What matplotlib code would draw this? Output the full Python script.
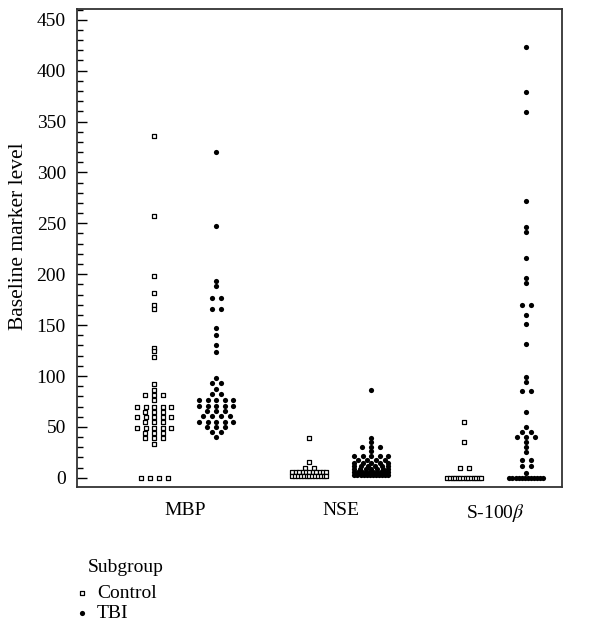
import numpy as np
import matplotlib.pyplot as plt
from matplotlib.ticker import MultipleLocator

plt.rcParams['font.family'] = ['Liberation Serif', 'DejaVu Serif']
plt.rcParams['mathtext.fontset'] = 'stix'
plt.rcParams['font.size'] = 14

# CATEGORIES AND SUBGROUPS
MARKERS = ['MBP', 'NSE', 'S-100$\\beta$']
SUBGROUPS = ['Control', 'TBI']

# BASELINE LEVELS
MBP_CONTROL = [336, 257, 198, 182, 170, 166, 128, 125, 119,
               92, 86, 81, 81, 81, 76,
               70, 70, 70, 70, 70, 65, 65, 65,
               60, 60, 60, 60, 60, 55, 55, 55,
               49, 49, 49, 49, 49, 44, 44, 44,
               39, 39, 39, 33, 0, 0, 0, 0]
MBP_TBI = [320, 247, 193, 188, 177, 177, 166, 166, 147, 140, 130, 124,
           98, 93, 93, 87, 82, 82,
           76, 76, 76, 76, 76, 71, 71, 71, 71, 71,
           66, 66, 66, 61, 61, 61, 61,
           55, 55, 55, 55, 55, 50, 50, 50, 45, 45, 40]
NSE_CONTROL = [39, 16, 10, 10,
               6, 6, 6, 6, 6, 6, 6, 6, 6, 6, 6,
               2, 2, 2, 2, 2, 2, 2, 2, 2, 2, 2, 2, 2]
NSE_TBI = [86, 39, 35, 30, 30, 30, 26,
           21, 21, 21, 21, 21, 18, 18, 18, 18,
           15, 15, 15, 15, 15, 12, 12, 12, 12, 12, 12,
           9, 9, 9, 9, 9, 9, 9,
           6, 6, 6, 6, 6, 6, 6, 6, 6, 6,
           3, 3, 3, 3, 3, 3, 3, 3, 3, 3, 3, 3]
S100_CONTROL = [55, 35, 10, 10,
                0, 0, 0, 0, 0, 0, 0, 0, 0, 0, 0, 0, 0, 0]
S100_TBI = [423, 379, 359, 272, 246, 241, 216, 196, 191, 170, 170, 160, 151, 131,
            99, 94, 85, 85, 65, 50, 45, 45, 40, 40, 40, 35, 30, 25,
            18, 18, 12, 12, 5,
            0, 0, 0, 0, 0, 0, 0, 0, 0, 0, 0, 0]

DATA = {
    'Control': [MBP_CONTROL, NSE_CONTROL, S100_CONTROL],
    'TBI': [MBP_TBI, NSE_TBI, S100_TBI],
}

AX_LEFT, AX_RIGHT, AX_TOP, AX_BOTTOM = 77, 562, 9, 487   # pixels
XLIM = (-0.70, 2.43)
GROUP_SHIFT = 0.2


# SPREAD EQUAL VALUES SIDE BY SIDE (IN PIXELS, THEN BACK TO DATA UNITS)
def row_offsets(values, px_per_unit):
    values = np.asarray(values, dtype=float)
    offsets = np.zeros(len(values))
    for v in np.unique(values):
        idx = np.where(values == v)[0]
        n = len(idx)
        if n > 1:
            step = min(9.0, 34.0 / (n - 1)) / px_per_unit
            offsets[idx] = (np.arange(n) - (n - 1) / 2) * step
    return offsets


fig = plt.figure(figsize=(6.01, 6.23), dpi=100)
ax = fig.add_axes([AX_LEFT / 601, 1 - AX_BOTTOM / 623,
                   (AX_RIGHT - AX_LEFT) / 601, (AX_BOTTOM - AX_TOP) / 623])
ax.set_xlim(*XLIM)
ax.set_ylim(-9, 460.5)

px_per_unit = (AX_RIGHT - AX_LEFT) / (XLIM[1] - XLIM[0])

styles = {
    'Control': dict(marker='s', s=11, facecolors='white', edgecolors='black', linewidths=0.9),
    'TBI': dict(marker='o', s=14, color='black', linewidths=0),
}

handles = []
for j, group in enumerate(SUBGROUPS):
    shift = -GROUP_SHIFT if group == 'Control' else GROUP_SHIFT
    for i, values in enumerate(DATA[group]):
        x = i + shift + row_offsets(values, px_per_unit)
        h = ax.scatter(x, values, zorder=3 + j, **styles[group])
    handles.append(h)

ax.set_xticks(range(len(MARKERS)))
ax.set_xticklabels(MARKERS)
ax.tick_params(axis='x', length=0, pad=11)

ax.yaxis.set_major_locator(MultipleLocator(50))
ax.yaxis.set_minor_locator(MultipleLocator(10))
ax.tick_params(axis='y', which='major', direction='in', length=7, width=1, pad=8)
ax.tick_params(axis='y', which='minor', direction='in', length=4, width=1)
ax.set_ylabel('Baseline marker level', fontsize=15.5)
ax.yaxis.set_label_coords((28 - AX_LEFT) / (AX_RIGHT - AX_LEFT),
                          (AX_BOTTOM - 236) / (AX_BOTTOM - AX_TOP))

for side in ['left', 'bottom', 'top', 'right']:
    ax.spines[side].set_linewidth(1.3)
    ax.spines[side].set_color('#333333')

# LEGEND: TITLE AS PLAIN TEXT, ENTRIES BELOW IT
fig.text(88 / 601, 1 - 567 / 623, 'Subgroup', ha='left', va='center')
fig.legend(handles, SUBGROUPS, loc='upper left',
           bbox_to_anchor=(66 / 601, 1 - 575 / 623), frameon=False,
           handlelength=0.6, handletextpad=0.5, labelspacing=0.1,
           borderpad=0.0, fontsize=14, markerscale=1.0)

fig.savefig('out.png', dpi=100)
